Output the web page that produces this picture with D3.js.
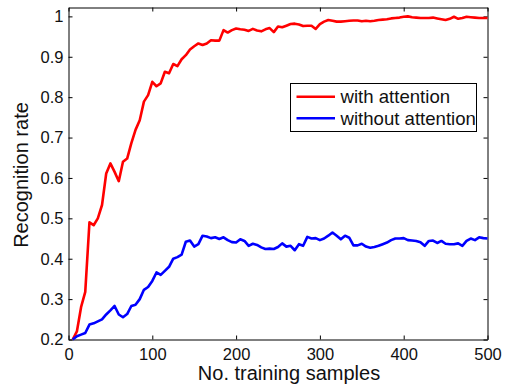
<!DOCTYPE html>
<html>
<head>
<meta charset="utf-8">
<script src="https://cdn.jsdelivr.net/npm/d3@7"></script>
<style>
  body { margin: 0; background: #fff; }
  svg { display: block; font-family: "Liberation Sans", Arial, sans-serif; }
</style>
</head>
<body>
<svg width="507" height="387"></svg>
<script>
// training set sizes (x axis), one sample every 5
const samples = d3.range(5, 501, 5);

const withAttention = [
  0.200, 0.220, 0.280, 0.318, 0.490, 0.483, 0.500, 0.533, 0.611, 0.636,
  0.615, 0.592, 0.640, 0.648, 0.686, 0.719, 0.743, 0.789, 0.805, 0.838,
  0.827, 0.834, 0.863, 0.859, 0.882, 0.877, 0.894, 0.904, 0.918, 0.926,
  0.933, 0.929, 0.933, 0.941, 0.940, 0.940, 0.966, 0.960, 0.966, 0.970,
  0.968, 0.967, 0.964, 0.969, 0.965, 0.963, 0.968, 0.971, 0.961, 0.975,
  0.973, 0.977, 0.981, 0.982, 0.980, 0.976, 0.977, 0.977, 0.969, 0.981,
  0.987, 0.991, 0.989, 0.987, 0.987, 0.988, 0.989, 0.990, 0.990, 0.988,
  0.989, 0.988, 0.989, 0.991, 0.992, 0.993, 0.995, 0.996, 0.997, 0.999,
  1.000, 0.998, 0.997, 0.996, 0.996, 0.996, 0.997, 0.995, 0.993, 0.991,
  0.994, 0.999, 0.994, 0.996, 0.999, 0.998, 0.997, 0.996, 0.996, 0.996
];

const withoutAttention = [
  0.200, 0.208, 0.212, 0.216, 0.237, 0.240, 0.245, 0.250, 0.262, 0.272,
  0.283, 0.262, 0.255, 0.263, 0.283, 0.286, 0.300, 0.323, 0.330, 0.345,
  0.366, 0.360, 0.370, 0.380, 0.400, 0.404, 0.410, 0.442, 0.445, 0.430,
  0.436, 0.457, 0.455, 0.451, 0.453, 0.449, 0.453, 0.446, 0.441, 0.440,
  0.448, 0.444, 0.432, 0.437, 0.434, 0.428, 0.424, 0.425, 0.424, 0.429,
  0.438, 0.430, 0.432, 0.421, 0.436, 0.432, 0.454, 0.450, 0.451, 0.446,
  0.450, 0.457, 0.465, 0.457, 0.448, 0.457, 0.452, 0.433, 0.433, 0.437,
  0.430, 0.427, 0.429, 0.432, 0.436, 0.440, 0.446, 0.450, 0.450, 0.451,
  0.446, 0.445, 0.444, 0.441, 0.432, 0.444, 0.445, 0.439, 0.444, 0.437,
  0.436, 0.436, 0.438, 0.432, 0.444, 0.450, 0.446, 0.453, 0.451, 0.450
];

const xTicks = [0, 100, 200, 300, 400, 500];
const yTicks = [0.2, 0.3, 0.4, 0.5, 0.6, 0.7, 0.8, 0.9, 1];
const seriesNames = ["with attention", "without attention"];
const seriesColors = ["#ff0000", "#0000ff"];

const svg = d3.select("svg");
const plotLeft = 68.5, plotRight = 487.5, plotTop = 7.5, plotBottom = 339.5;

const x = d3.scaleLinear().domain([0, 500]).range([plotLeft, plotRight]);
const y = d3.scaleLinear().domain([0.2, 1.022]).range([plotBottom, plotTop]);

// axes (box with inward ticks, like matlab)
function styleAxis(sel) {
  sel.select(".domain").attr("stroke", "#000").attr("stroke-width", 1);
  sel.selectAll(".tick line").attr("stroke", "#000");
  sel.selectAll(".tick text")
    .attr("fill", "#111")
    .attr("font-size", "16.5px")
    .attr("font-family", "Liberation Sans, Arial, sans-serif");
}

svg.append("g")
  .attr("transform", `translate(0,${plotBottom})`)
  .call(d3.axisBottom(x).tickValues(xTicks).tickSizeInner(-4).tickSizeOuter(0).tickPadding(8.5))
  .call(styleAxis);

svg.append("g")
  .attr("transform", `translate(0,${plotTop})`)
  .call(d3.axisTop(x).tickValues(xTicks).tickSizeInner(-4).tickSizeOuter(0).tickFormat(""))
  .call(styleAxis);

svg.append("g")
  .attr("transform", `translate(${plotLeft},0)`)
  .call(d3.axisLeft(y).tickValues(yTicks).tickSizeInner(-4).tickSizeOuter(0).tickPadding(5)
    .tickFormat((d) => d === 1 ? "1" : d3.format(".1f")(d)))
  .call(styleAxis);

svg.append("g")
  .attr("transform", `translate(${plotRight},0)`)
  .call(d3.axisRight(y).tickValues(yTicks).tickSizeInner(-4).tickSizeOuter(0).tickFormat(""))
  .call(styleAxis);

// lines
const line = d3.line()
  .x((d, i) => x(samples[i]))
  .y((d) => y(d));

[withAttention, withoutAttention].forEach((vals, i) => {
  svg.append("path")
    .datum(vals)
    .attr("fill", "none")
    .attr("stroke", seriesColors[i])
    .attr("stroke-width", 2.6)
    .attr("stroke-linejoin", "round")
    .attr("d", line);
});

// axis labels
svg.append("text")
  .attr("x", 289)
  .attr("y", 380)
  .attr("text-anchor", "middle")
  .attr("font-size", "20px")
  .attr("fill", "#111")
  .text("No. training samples");

svg.append("text")
  .attr("transform", "translate(28,175) rotate(-90)")
  .attr("text-anchor", "middle")
  .attr("font-size", "20px")
  .attr("fill", "#111")
  .text("Recognition rate");

// legend
const legend = svg.append("g");
legend.append("rect")
  .attr("x", 290.5).attr("y", 83.5)
  .attr("width", 186).attr("height", 48)
  .attr("fill", "#fff")
  .attr("stroke", "#000")
  .attr("stroke-width", 1);

seriesNames.forEach((name, i) => {
  const ly = 96.7 + i * 21.6;
  legend.append("line")
    .attr("x1", 296.5).attr("x2", 335)
    .attr("y1", ly).attr("y2", ly)
    .attr("stroke", seriesColors[i])
    .attr("stroke-width", 2.6);
  legend.append("text")
    .attr("x", 340.5).attr("y", ly)
    .attr("dy", "0.35em")
    .attr("font-size", "18.6px")
    .attr("fill", "#111")
    .text(name);
});
</script>
</body>
</html>
